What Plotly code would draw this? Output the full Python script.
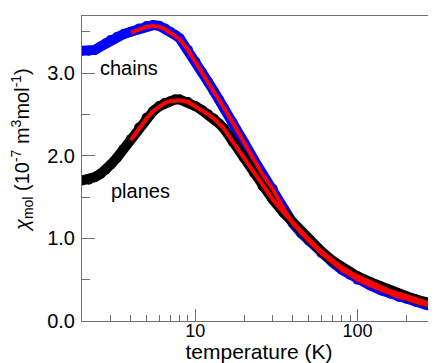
import plotly.graph_objects as go

# temperature grid (K)
temp = [2.0, 2.2, 2.4, 2.6, 2.8, 3.0, 3.3, 3.6, 4.0, 4.5, 5.0, 5.5, 6.0, 6.5, 7.0,
        7.5, 8.0, 9.0, 10, 11, 12, 13, 14, 15, 17, 20, 23, 26, 30, 35, 40, 45, 50,
        60, 70, 80, 90, 100, 120, 140, 160, 180, 200, 230, 260, 300]

# measured susceptibility, 1e-7 m^3/mol
chi_chains = [3.27, 3.27, 3.28, 3.32, 3.36, 3.40, 3.44, 3.47, 3.50, 3.54, 3.57, 3.58,
              3.57, 3.54, 3.50, 3.46, 3.42, 3.28, 3.14, 3.01, 2.89, 2.78, 2.68, 2.58,
              2.40, 2.16, 1.95, 1.77, 1.60, 1.36, 1.18, 1.06, 0.97, 0.82, 0.71, 0.62,
              0.56, 0.50, 0.43, 0.37, 0.33, 0.29, 0.27, 0.23, 0.20, 0.17]
chi_planes = [1.70, 1.71, 1.74, 1.78, 1.83, 1.89, 1.98, 2.08, 2.20, 2.34, 2.46, 2.54,
              2.60, 2.64, 2.66, 2.68, 2.68, 2.65, 2.60, 2.55, 2.50, 2.45, 2.39, 2.33,
              2.17, 1.97, 1.79, 1.63, 1.47, 1.31, 1.19, 1.08, 0.99, 0.84, 0.73, 0.65,
              0.59, 0.54, 0.47, 0.41, 0.36, 0.33, 0.30, 0.26, 0.23, 0.20]

# fits (start around 4 K)
fit_temp = [4.0, 4.5, 5.0, 5.5, 6.0, 6.5, 7.0, 7.5, 8.0, 9.0, 10, 11, 12, 13, 14, 15,
            17, 20, 23, 26, 30, 35, 40, 45, 50, 60, 70, 80, 90, 100, 120, 140, 160,
            180, 200, 230, 260, 300]
fit_chains = [3.49, 3.53, 3.56, 3.57, 3.56, 3.53, 3.49, 3.45, 3.41, 3.28, 3.14, 3.01,
              2.89, 2.78, 2.68, 2.58, 2.40, 2.16, 1.95, 1.77, 1.60, 1.36, 1.18, 1.06,
              0.97, 0.82, 0.71, 0.62, 0.56, 0.50, 0.43, 0.37, 0.33, 0.29, 0.27, 0.23,
              0.20, 0.17]
fit_planes = [2.19, 2.33, 2.45, 2.54, 2.60, 2.64, 2.66, 2.67, 2.67, 2.65, 2.60, 2.55,
              2.50, 2.45, 2.39, 2.33, 2.17, 1.97, 1.79, 1.63, 1.47, 1.31, 1.19, 1.08,
              0.99, 0.84, 0.73, 0.65, 0.59, 0.54, 0.47, 0.41, 0.36, 0.33, 0.30, 0.26,
              0.23, 0.20]

fig = go.Figure()

fig.add_trace(go.Scatter(x=temp, y=chi_chains, mode="lines+markers",
                         line=dict(color="#0000ff", width=10),
                         marker=dict(color="#0000ff", size=10)))
fig.add_trace(go.Scatter(x=temp, y=chi_planes, mode="lines+markers",
                         line=dict(color="#000000", width=10),
                         marker=dict(color="#000000", size=10)))
fig.add_trace(go.Scatter(x=fit_temp, y=fit_chains, mode="lines",
                         line=dict(color="#ff0000", width=4)))
fig.add_trace(go.Scatter(x=fit_temp, y=fit_planes, mode="lines",
                         line=dict(color="#ff0000", width=4)))

font = "Liberation Sans, Arial, sans-serif"

fig.add_annotation(x=0.398, y=3.06, text="chains", showarrow=False, xanchor="left",
                   font=dict(size=20, color="black", family=font))
fig.add_annotation(x=0.465, y=1.57, text="planes", showarrow=False, xanchor="left",
                   font=dict(size=20, color="black", family=font))

# y axis title as a rotated annotation (sits above the axis centre in the original)
fig.add_annotation(xref="paper", yref="paper", x=-0.17, y=0.56, textangle=-90,
                   xanchor="center", yanchor="middle", showarrow=False,
                   text="<i>χ</i><sub>mol</sub> (10<sup>-7</sup> m<sup>3</sup>mol<sup>-1</sup>)",
                   font=dict(size=20, color="black", family=font))

axis_col = "#707070"
fig.update_xaxes(type="log", range=[0.301, 2.484], tickvals=[10, 100],
                 ticktext=["10", "100"], ticks="inside", ticklen=12, tickcolor=axis_col,
                 minor=dict(tickvals=[2, 3, 4, 5, 6, 7, 8, 9, 20, 30, 40, 50, 60, 70,
                                      80, 90, 200, 300],
                            ticks="inside", ticklen=6, tickcolor=axis_col),
                 showline=True, linecolor=axis_col, mirror=True, showgrid=False,
                 zeroline=False, tickfont=dict(size=18, color="black"),
                 ticklabelstandoff=-7,
                 title=dict(text="temperature (K)", font=dict(size=21, color="black"),
                            standoff=0))
fig.update_yaxes(range=[0, 3.69], tickvals=[0, 1, 2, 3],
                 ticktext=["0.0", "1.0", "2.0", "3.0"], ticks="inside", ticklen=13,
                 tickcolor=axis_col,
                 minor=dict(tickvals=[0.5, 1.5, 2.5, 3.5], ticks="inside", ticklen=8,
                            tickcolor=axis_col),
                 showline=True, linecolor=axis_col, mirror=True, showgrid=False,
                 zeroline=False, tickfont=dict(size=20, color="black"),
                 ticklabelstandoff=2)

# page body adds an 8px offset, so the figure is 8px smaller and margins shifted
fig.update_layout(width=428, height=355, margin=dict(l=74, r=0, t=8, b=42),
                  plot_bgcolor="white", paper_bgcolor="white", showlegend=False,
                  font=dict(family=font, color="black"))

fig.write_html("out.html")
